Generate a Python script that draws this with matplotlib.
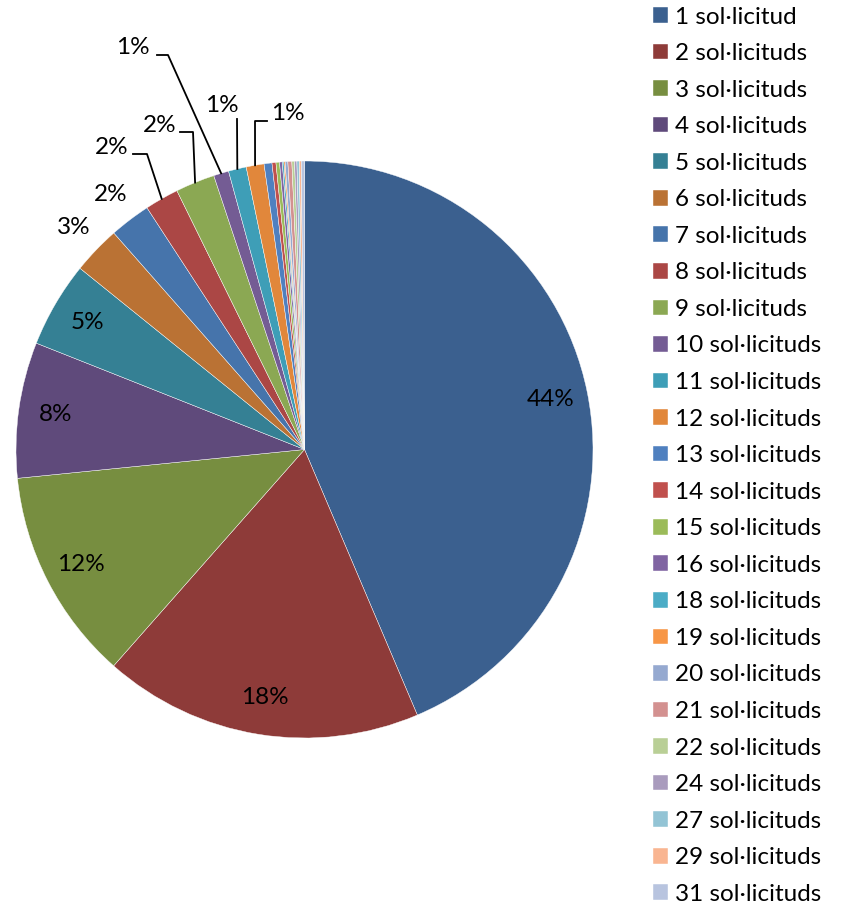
import numpy as np
import matplotlib.pyplot as plt
from matplotlib.lines import Line2D

plt.rcParams['font.family'] = ['Lato', 'DejaVu Sans']

categories = ['1 sol·licitud', '2 sol·licituds', '3 sol·licituds', '4 sol·licituds',
              '5 sol·licituds', '6 sol·licituds', '7 sol·licituds', '8 sol·licituds',
              '9 sol·licituds', '10 sol·licituds', '11 sol·licituds', '12 sol·licituds',
              '13 sol·licituds', '14 sol·licituds', '15 sol·licituds', '16 sol·licituds',
              '18 sol·licituds', '19 sol·licituds', '20 sol·licituds', '21 sol·licituds',
              '22 sol·licituds', '24 sol·licituds', '27 sol·licituds', '29 sol·licituds',
              '31 sol·licituds']
shares = [43.6, 17.9, 11.9, 7.6, 4.8, 2.7, 2.3, 1.9, 2.2, 0.85, 1.0, 1.0,
          0.44, 0.22, 0.20, 0.15, 0.09, 0.07, 0.15, 0.22, 0.15, 0.13, 0.13, 0.11, 0.18]
colors = ['#3B608F', '#8E3B39', '#778E40', '#5F4A7B', '#358094', '#BA7234',
          '#4674AB', '#AB4745', '#8BA853', '#745C94', '#3E9EB7', '#E1873B',
          '#4F80BF', '#C0504D', '#9BBB59', '#8064A2', '#4BACC6', '#F79646',
          '#95A9D0', '#D39190', '#B9CF96', '#A99BBD', '#93C4D5', '#F9B591', '#B8C4DF']

W, H = 842, 907
CX, CY, R = 304.5, 449.5, 288.5
FS = 17.5


def px(x, y):
    return ((x - CX) / R, (CY - y) / R)


fig = plt.figure(figsize=(W / 100, H / 100), dpi=100)
ax = fig.add_axes([0, 0, 1, 1])
wedges, _ = ax.pie(shares, colors=colors, startangle=90, counterclock=False,
                   radius=1, wedgeprops=dict(linewidth=0.3, edgecolor='white'))
ax.set_xlim(-CX / R, (W - CX) / R)
ax.set_ylim(-(H - CY) / R, CY / R)
ax.set_aspect('equal')
ax.axis('off')

total = sum(shares)
# label layout for small slices: text centre, leader start, elbow (pixels)
leaders = {7: ((112, 148), (133, 154), (147, 154)),
           8: ((160, 126), (180, 132), (193, 132)),
           9: ((133, 47), (157, 55), (168, 55)),
           10: ((222, 106), (237, 119), (237, 119)),
           11: ((288, 113), (267, 121), (255, 121))}

for i, w in enumerate(wedges):
    pct = shares[i] / total * 100
    if pct < 0.5:
        continue
    txt = f"{pct:.0f}%"
    mid = np.deg2rad((w.theta1 + w.theta2) / 2)
    if i in leaders:
        tc, st, el = leaders[i]
        ax.text(*px(*tc), txt, ha='center', va='center', fontsize=FS)
        end = (np.cos(mid), np.sin(mid))
        p0, p1 = px(*st), px(*el)
        ax.add_line(Line2D([p0[0], p1[0], end[0]], [p0[1], p1[1], end[1]],
                           color='black', lw=1.3))
    elif i < 5:
        ax.text(0.87 * np.cos(mid), 0.87 * np.sin(mid), txt,
                ha='center', va='center', fontsize=FS)
    else:
        ax.text(1.11 * np.cos(mid), 1.11 * np.sin(mid), txt,
                ha='center', va='center', fontsize=FS)

fig.legend(wedges, categories, loc='upper left', bbox_to_anchor=(653 / W, 1 - 6.5 / H),
           frameon=False, fontsize=FS, handlelength=0.62, handleheight=0.62,
           handletextpad=0.3, labelspacing=0.64, borderpad=0, borderaxespad=0)

fig.savefig('out.png', dpi=100)
